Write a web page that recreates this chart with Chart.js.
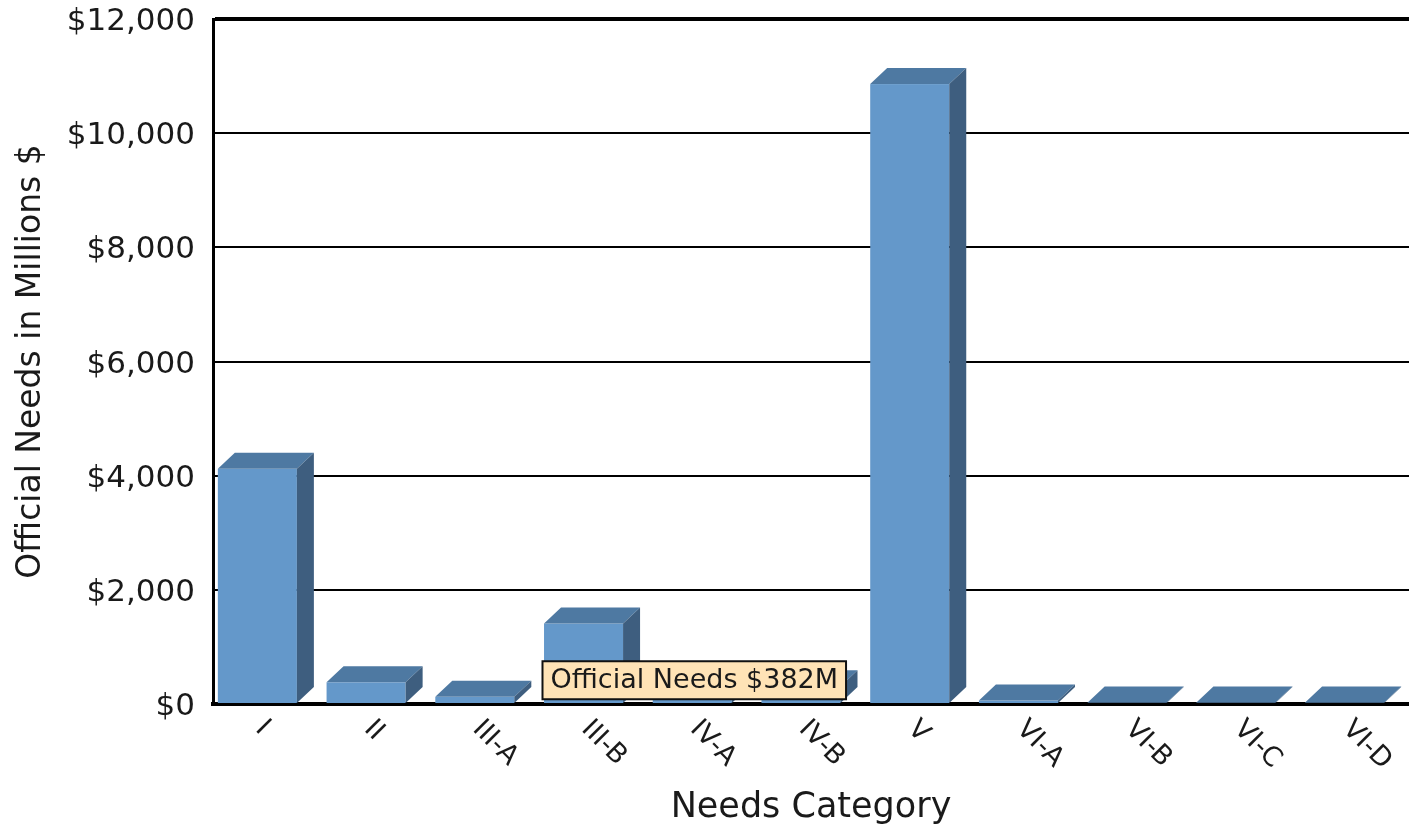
<!DOCTYPE html>
<html>
<head>
<meta charset="utf-8">
<title>Official Needs by Category</title>
<script src="https://cdn.jsdelivr.net/npm/chart.js@4.4.1/dist/chart.umd.min.js"></script>
<style>
  html, body { margin: 0; padding: 0; background: #fff; overflow: hidden; }
  canvas { display: block; }
</style>
</head>
<body>
<canvas id="needsChart" width="1409" height="829"></canvas>
<script>
// Needs categories and official needs (millions of dollars)
const categories = ['I', 'II', 'III-A', 'III-B', 'IV-A', 'IV-B', 'V', 'VI-A', 'VI-B', 'VI-C', 'VI-D'];
const officialNeeds = [4120, 380, 125, 1410, 382, 310, 10860, 60, 25, 25, 25];
const yTickValues = [0, 2000, 4000, 6000, 8000, 10000, 12000];
const seriesName = 'Official Needs';
const highlightedIndex = 4;

const FONT = "'DejaVu Sans', Verdana, sans-serif";
const TEXT = '#1a1a1a';
const DEPTH_X = 17;
const DEPTH_Y = 16;
const FRONT_SHIFT = -10;
const COLORS = { front: '#6498CA', top: '#4E79A2', side: '#3E5E7F' };

// Extruded bars: front face plus top and right faces, from each bar element's geometry
const extrudedBars = {
  id: 'extrudedBars',
  afterDatasetsDraw(chart) {
    const ctx = chart.ctx;
    const meta = chart.getDatasetMeta(0);
    ctx.save();
    meta.data.forEach(bar => {
      const w = bar.width;
      const x0 = bar.x - w / 2 + FRONT_SHIFT;
      const x1 = x0 + w;
      const top = bar.y;
      const base = bar.base;
      ctx.fillStyle = COLORS.front;
      ctx.fillRect(x0, top, w, base - top);
      ctx.fillStyle = COLORS.top;
      ctx.beginPath();
      ctx.moveTo(x0, top);
      ctx.lineTo(x0 + DEPTH_X, top - DEPTH_Y);
      ctx.lineTo(x1 + DEPTH_X, top - DEPTH_Y);
      ctx.lineTo(x1, top);
      ctx.closePath();
      ctx.fill();
      ctx.fillStyle = COLORS.side;
      ctx.beginPath();
      ctx.moveTo(x1, top);
      ctx.lineTo(x1 + DEPTH_X, top - DEPTH_Y);
      ctx.lineTo(x1 + DEPTH_X, base - DEPTH_Y);
      ctx.lineTo(x1, base);
      ctx.closePath();
      ctx.fill();
    });
    ctx.restore();
  }
};

// Category labels slanted downward to the right, starting at each tick
const slantedCategoryLabels = {
  id: 'slantedCategoryLabels',
  afterDatasetsDraw(chart) {
    const ctx = chart.ctx;
    const xScale = chart.scales.x;
    ctx.save();
    ctx.font = '27px ' + FONT;
    ctx.fillStyle = TEXT;
    ctx.textAlign = 'left';
    ctx.textBaseline = 'middle';
    categories.forEach((label, i) => {
      const x = xScale.getPixelForTick(i) - 8;
      const y = xScale.top + 21;
      ctx.save();
      ctx.translate(x, y);
      ctx.rotate(Math.PI / 4);
      ctx.fillText(label, 0, 0);
      ctx.restore();
    });
    ctx.restore();
  }
};

// Tooltip box sits just above the highlighted bar, centred on its front face
Chart.Tooltip.positioners.aboveBar = function (items) {
  if (!items.length) return false;
  const el = items[0].element;
  return { x: el.x + FRONT_SHIFT + 2, y: el.y - DEPTH_Y - 5, xAlign: 'center', yAlign: 'top' };
};

const chart = new Chart(document.getElementById('needsChart'), {
  type: 'bar',
  data: {
    labels: categories,
    datasets: [{
      label: seriesName,
      data: officialNeeds,
      backgroundColor: 'rgba(0,0,0,0)',
      borderWidth: 0,
      categoryPercentage: 1,
      barPercentage: 0.727
    }]
  },
  options: {
    responsive: false,
    animation: false,
    events: [],
    layout: { padding: { top: 19, right: 0, bottom: 0, left: 0 } },
    plugins: {
      legend: { display: false },
      title: { display: false },
      tooltip: {
        enabled: true,
        position: 'aboveBar',
        backgroundColor: '#FFE3B6',
        borderColor: '#111',
        borderWidth: 2,
        cornerRadius: 0,
        caretSize: 0,
        caretPadding: 0,
        displayColors: false,
        bodyColor: TEXT,
        bodyFont: { family: FONT, size: 27, lineHeight: 1.15 },
        padding: { left: 8, right: 8, top: 4, bottom: 3 },
        callbacks: {
          title: () => '',
          label: c => `${seriesName} $${c.raw}M`
        }
      }
    },
    scales: {
      x: {
        type: 'category',
        grid: { display: false, drawTicks: false },
        border: { display: true, color: '#000', width: 4 },
        ticks: { display: false },
        title: {
          display: true,
          text: 'Needs Category',
          color: TEXT,
          font: { family: FONT, size: 35 },
          padding: { top: 0, bottom: 0 }
        },
        afterFit(scale) {
          scale.height = 125;
          scale.paddingLeft = 0;
          scale.paddingRight = 0;
        }
      },
      y: {
        min: 0,
        max: 12000,
        afterBuildTicks(scale) { scale.ticks = yTickValues.map(v => ({ value: v })); },
        grid: {
          color: '#000',
          lineWidth: c => (c.tick && c.tick.value === 12000 ? 4 : 2),
          drawTicks: false
        },
        border: { display: true, color: '#000', width: 3 },
        ticks: {
          color: TEXT,
          font: { family: FONT, size: 31 },
          padding: 18,
          labelOffset: 3,
          callback: v => '$' + Number(v).toLocaleString('en-US')
        },
        title: {
          display: true,
          text: 'Official Needs in Millions $',
          color: TEXT,
          font: { family: FONT, size: 33 },
          padding: { top: 12, bottom: 0 }
        },
        afterFit(scale) {
          scale.width = 213;
          scale.paddingTop = 0;
          scale.paddingBottom = 0;
        }
      }
    }
  },
  plugins: [extrudedBars, slantedCategoryLabels]
});

chart.tooltip.setActiveElements([{ datasetIndex: 0, index: highlightedIndex }], { x: 0, y: 0 });
chart.update();
</script>
</body>
</html>
